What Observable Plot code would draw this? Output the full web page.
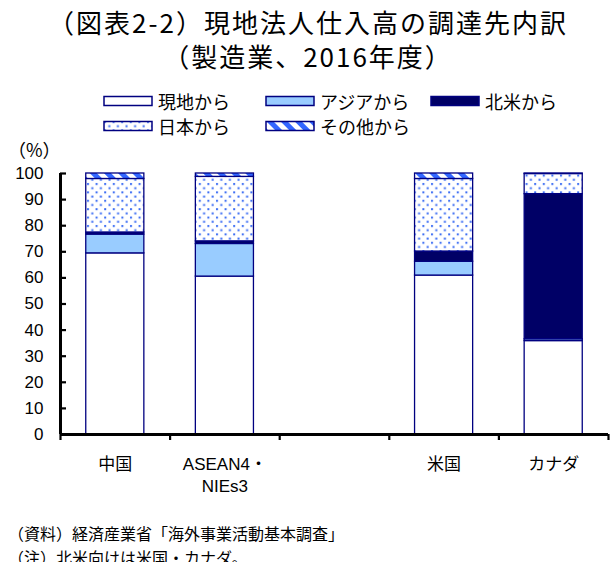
<!DOCTYPE html>
<html><head><meta charset="utf-8">
<script src="https://cdn.jsdelivr.net/npm/d3@7"></script>
<script src="https://cdn.jsdelivr.net/npm/@observablehq/plot@0.6"></script>
<style>
body{margin:0;background:#fff;font-family:"Noto Sans CJK JP","Noto Sans",sans-serif;color:#000;}
#wrap{position:relative;width:616px;height:562px;overflow:hidden;background:#fff;}
.title{position:absolute;left:0;width:616px;text-align:center;font-size:26px;line-height:34px;letter-spacing:2px;white-space:nowrap;}
.leg{position:absolute;display:flex;align-items:center;font-size:18px;white-space:nowrap;height:24px;}
.leg svg{margin-right:5px;}
.unit{position:absolute;left:8px;top:141px;font-size:18px;line-height:17px;z-index:2;}
.cap{position:absolute;left:8px;font-size:16px;line-height:24px;white-space:nowrap;}
#plot{position:absolute;left:0;top:140px;z-index:1;}
</style></head><body>
<svg width="0" height="0" style="position:absolute">
<defs>
<pattern id="dots" width="8.6" height="8.4" patternUnits="userSpaceOnUse">
<rect width="8.6" height="8.4" fill="#ffffff"/>
<rect x="1" y="1" width="2" height="2" fill="#3a6cf4"/>
<rect x="5.3" y="5.2" width="2" height="2" fill="#3a6cf4"/>
</pattern>
<pattern id="stripes" width="10" height="10" patternUnits="userSpaceOnUse" patternTransform="rotate(-45)">
<rect width="10" height="10" fill="#ffffff"/>
<rect width="5" height="10" fill="#3366ff"/>
</pattern>
</defs>
</svg>
<div id="wrap">
<div class="title" style="top:5px">（図表2-2）現地法人仕入高の調達先内訳</div>
<div class="title" style="top:39px">（製造業、2016年度）</div>
<div id="legend"></div>
<div class="unit">（%）</div>
<div id="plot"></div>
<div class="cap" style="top:521px">（資料）経済産業省「海外事業活動基本調査」</div>
<div class="cap" style="top:545px">（注）北米向けは米国・カナダ。</div>
</div>
<script>
// ---- data ----
const categories = ["中国", "ASEAN4・\nNIEs3", "", "米国", "カナダ"];
const seriesNames = ["現地から", "アジアから", "北米から", "日本から", "その他から"];
const localValues  = [69.4, 60.5, null, 60.9, 35.8];
const asiaValues   = [7.2, 12.5, null, 5.3, 0.7];
const naValues     = [0.8, 1.0, null, 3.9, 55.6];
const japanValues  = [20.5, 24.7, null, 27.8, 7.7];
const otherValues  = [2.1, 1.3, null, 2.1, 0.2];
const yTicks = [0, 10, 20, 30, 40, 50, 60, 70, 80, 90, 100];

const seriesValues = [localValues, asiaValues, naValues, japanValues, otherValues];
const seriesFills = ["#ffffff", "#99ccff", "#000066", "url(#dots)", "url(#stripes)"];
const outline = "#000080";

// legend
const legendPos = [[103, 89], [265, 89], [430, 89], [103, 114], [265, 114]];
const legend = document.getElementById("legend");
seriesNames.forEach((name, s) => {
  const d = document.createElement("div");
  d.className = "leg";
  d.style.left = legendPos[s][0] + "px";
  d.style.top = legendPos[s][1] + "px";
  d.innerHTML = `<svg width="50" height="12"><rect x="1" y="1.5" width="48" height="9" fill="${seriesFills[s]}" stroke="${outline}" stroke-width="1.5"/></svg><span>${name}</span>`;
  legend.appendChild(d);
});

// stacked rows
const rows = [];
categories.forEach((c, i) => {
  let acc = 0;
  seriesValues.forEach((vals, s) => {
    const v = vals[i];
    if (v == null) return;
    rows.push({i, cat: c, series: seriesNames[s], y1: acc, y2: acc + v});
    acc += v;
  });
});

const half = 0.265;
const W = 616, H = 370, mL = 60, mR = 8;
const barMarks = seriesNames.map((name, s) =>
  Plot.rect(rows.filter(r => r.series === name), {
    x1: r => r.i + 0.5 - half, x2: r => r.i + 0.5 + half,
    y1: "y1", y2: "y2",
    fill: seriesFills[s], stroke: outline, strokeWidth: 1.3
  })
);

const chart = Plot.plot({
  width: W, height: H,
  marginLeft: mL, marginRight: mR, marginTop: 33, marginBottom: 76,
  style: {fontFamily: "'Liberation Sans', 'Noto Sans CJK JP', sans-serif", fontSize: "17px", color: "#000", background: "transparent"},
  x: {domain: [0, categories.length], label: null},
  y: {domain: [0, 100], label: null},
  marks: [
    ...barMarks,
    Plot.axisY({ticks: yTicks, tickSize: 0, tickPadding: 17, fontSize: 17, label: null}),
    Plot.tickY(yTicks, {y: d => d, insetRight: W - mL - mR - 6, stroke: "#000", strokeWidth: 2.2}),
    Plot.axisX({ticks: d3.range(categories.length + 1), tickFormat: () => "", tickSize: 6, strokeWidth: 2.2, label: null}),
    Plot.text(categories, {x: (d, i) => i + 0.5, frameAnchor: "bottom", dy: 20, lineAnchor: "top", text: d => d, fontSize: 17, lineHeight: 1.3, fontFamily: "'Liberation Sans', 'Noto Sans CJK JP', sans-serif"}),
    Plot.ruleX([0], {stroke: "#000", strokeWidth: 3}),
    Plot.ruleY([0], {stroke: "#000", strokeWidth: 3})
  ]
});
document.getElementById("plot").appendChild(chart);
</script>
</body></html>
